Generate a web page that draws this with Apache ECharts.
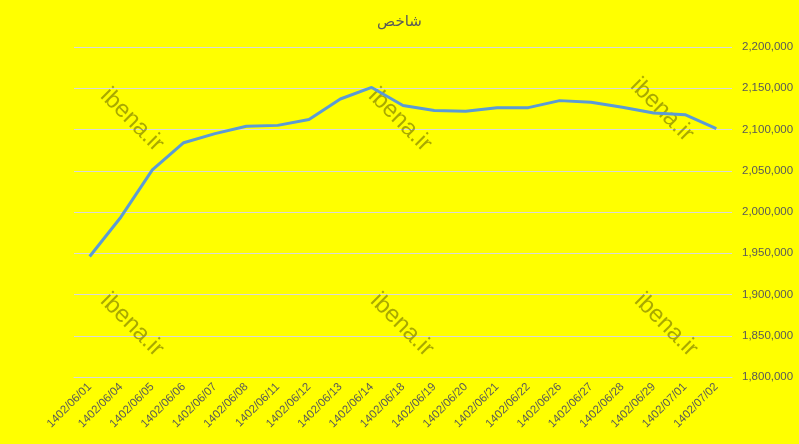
<!DOCTYPE html>
<html><head><meta charset="utf-8">
<script src="https://cdn.jsdelivr.net/npm/echarts@6/dist/echarts.min.js"></script>
<style>html,body{margin:0;padding:0;background:#ffff00}#c{width:799px;height:444px}</style>
</head><body><div id="c"></div>
<script>
const categories = ["1402/06/01","1402/06/04","1402/06/05","1402/06/06","1402/06/07","1402/06/08","1402/06/11","1402/06/12","1402/06/13","1402/06/14","1402/06/18","1402/06/19","1402/06/20","1402/06/21","1402/06/22","1402/06/26","1402/06/27","1402/06/28","1402/06/29","1402/07/01","1402/07/02"];
const values = [1946000,1994000,2051000,2084000,2095000,2104000,2105000,2112000,2137000,2151000,2129000,2123000,2122000,2126500,2126500,2135000,2133000,2127000,2120000,2118000,2101000];
const title = "شاخص";
const watermark = "ibena.ir";
const watermarkPos = [[132,120],[400,120],[662,110],[132,325],[402,325],[666,325]];

const chart = echarts.init(document.getElementById('c'), null, {renderer:'canvas'});
chart.setOption({
  backgroundColor:'#ffff00',
  animation:false,
  title:{text:title,left:'center',top:10,textStyle:{fontFamily:'DejaVu Sans',fontSize:15,fontWeight:'normal',color:'#595959'}},
  grid:{left:74,right:67,top:47,bottom:67,containLabel:false},
  xAxis:{type:'category',data:categories,boundaryGap:true,
    axisLine:{lineStyle:{color:'#d9d9d9'}},axisTick:{show:false},
    axisLabel:{rotate:45,interval:0,fontSize:11.5,color:'#595959',fontFamily:'Liberation Sans',margin:8}},
  yAxis:{type:'value',position:'right',min:1800000,max:2200000,interval:50000,
    axisLine:{show:false},axisTick:{show:false},
    splitLine:{lineStyle:{color:'#d9d9d9',width:1}},
    axisLabel:{fontSize:11.5,color:'#595959',fontFamily:'Liberation Sans',margin:10,
      formatter:v=>v.toLocaleString('en-US')}},
  graphic: watermarkPos.map(p=>({type:'text',x:p[0],y:p[1],rotation:-Math.PI/4,z:1,
    style:{text:watermark,fontSize:24,fontFamily:'Liberation Sans',fill:'rgba(64,64,0,0.45)',align:'center',verticalAlign:'middle'}})),
  series:[{type:'line',data:values,symbol:'none',lineStyle:{color:'#5b9bd5',width:3},z:2}]
});
</script></body></html>
